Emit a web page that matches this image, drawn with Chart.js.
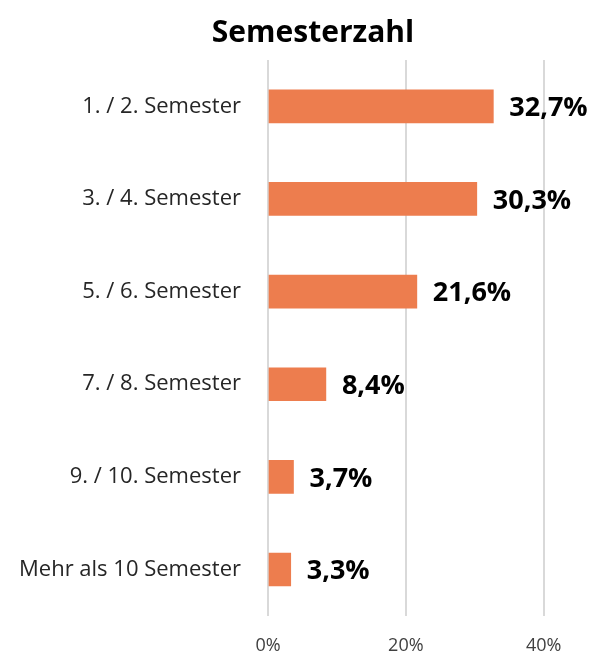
<!DOCTYPE html>
<html>
<head>
<meta charset="utf-8">
<script src="https://cdn.jsdelivr.net/npm/chart.js@4.4.1/dist/chart.umd.min.js"></script>
<style>
  html, body { margin: 0; padding: 0; background: #fff; }
  #wrap { width: 590px; height: 656px; position: relative; }
</style>
</head>
<body>
<div id="wrap"><canvas id="semester--bar"></canvas></div>
<script>
// Anteil der Studierenden nach Semesterzahl (in %)
var categories = ["1. / 2. Semester", "3. / 4. Semester", "5. / 6. Semester",
                  "7. / 8. Semester", "9. / 10. Semester", "Mehr als 10 Semester"];
var shares = [32.7, 30.3, 21.6, 8.4, 3.7, 3.3];
var xTicks = [0, 20, 40];
var chartTitle = "Semesterzahl";

var fontFamily = "'Open Sans', 'Noto Sans', sans-serif";

// Titel oben (etwas rechts der Mitte, wie im Original)
var titlePlugin = {
  id: 'titleText',
  afterDraw: function(chart) {
    var c = chart.ctx;
    c.save();
    c.font = "bold 30px " + fontFamily;
    c.fillStyle = "#000";
    c.textAlign = "center";
    c.textBaseline = "alphabetic";
    c.fillText(chartTitle, 313, 42);
    c.restore();
  }
};

// Prozentwerte rechts neben den Balken
var valuePlugin = {
  id: 'valueLabels',
  afterDatasetsDraw: function(chart) {
    var c = chart.ctx;
    var meta = chart.getDatasetMeta(0);
    c.save();
    c.font = "bold 27px " + fontFamily;
    c.fillStyle = "#000";
    c.textAlign = "left";
    c.textBaseline = "middle";
    meta.data.forEach(function(bar, i) {
      var txt = shares[i].toFixed(1).replace(".", ",") + "%";
      c.fillText(txt, bar.x + 16, bar.y + 2);
    });
    c.restore();
  }
};

var ctx = document.getElementById("semester--bar");
var chartBar = new Chart(ctx, {
  type: 'bar',
  data: {
    labels: categories,
    datasets: [{
      data: shares,
      backgroundColor: "#ED7D4E",
      barThickness: 33
    }]
  },
  options: {
    indexAxis: 'y',
    responsive: true,
    maintainAspectRatio: false,
    animation: false,
    layout: { padding: { top: 60, right: 5, left: 0, bottom: 0 } },
    plugins: {
      legend: { display: false },
      tooltip: { enabled: false }
    },
    scales: {
      x: {
        min: 0,
        max: 46,
        afterFit: function(scale) { scale.height = 39; },
        afterBuildTicks: function(scale) {
          scale.ticks = xTicks.map(function(v) { return { value: v }; });
        },
        border: { display: false },
        grid: { color: "#d9d9d9", lineWidth: 2, drawTicks: false },
        ticks: {
          padding: 19,
          color: "#404040",
          font: { family: fontFamily, size: 18 },
          callback: function(v) { return v + "%"; }
        }
      },
      y: {
        afterFit: function(scale) { scale.width = 268; },
        border: { display: false },
        grid: { display: false, drawTicks: false },
        ticks: {
          padding: 27,
          color: "#262626",
          font: { family: fontFamily, size: 22 }
        }
      }
    }
  },
  plugins: [titlePlugin, valuePlugin]
});
</script>
</body>
</html>
